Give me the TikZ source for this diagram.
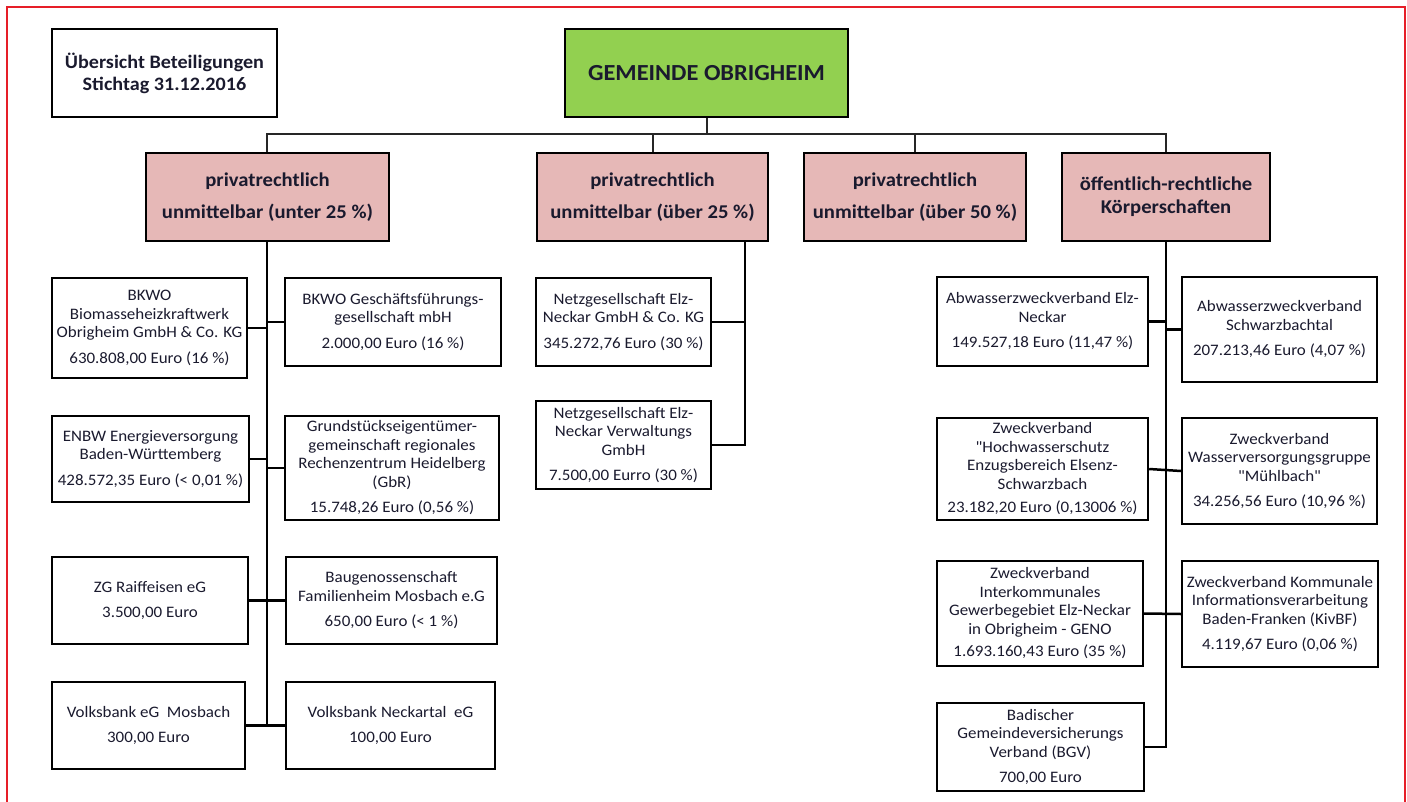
\documentclass[tikz,border=0pt]{standalone}
\usepackage{fontspec}
\setmainfont{Carlito}[FakeStretch=1.06,Ligatures=TeXOff]
\definecolor{txt}{RGB}{26,26,46}
\definecolor{gruen}{RGB}{146,208,80}
\definecolor{rosa}{RGB}{230,184,183}
\definecolor{rahmen}{RGB}{230,30,40}
\begin{document}
\begin{tikzpicture}[x=1pt,y=-1pt,
  box/.style={draw=black,line width=2.4pt,rectangle,align=center,inner sep=1pt,
    text=txt,font=\fontsize{16}{18.5}\selectfont},
  headbox/.style={box,fill=rosa,font=\bfseries\fontsize{19.5}{20}\selectfont},
  conn/.style={draw=black,line width=2.5pt},
  busline/.style={draw=black!85,line width=2pt}]
\useasboundingbox (0,0) rectangle (1407,802);
\draw[rahmen,line width=2pt] (7,802) -- (7,7) -- (1405,7) -- (1405,802);

\node[box,minimum width=225pt,minimum height=88pt,font=\bfseries\fontsize{19}{22}\selectfont] (titel) at (164.5,73) {Übersicht Beteiligungen\\Stichtag 31.12.2016};
\node[box,fill=gruen,minimum width=283pt,minimum height=88pt,font=\bfseries\fontsize{23}{24}\selectfont] (gem) at (706.5,73) {GEMEINDE OBRIGHEIM};

\node[headbox,minimum width=243pt,minimum height=88pt] (cat1) at (267.5,197) {privatrechtlich\\[12pt]unmittelbar (unter 25 \%)};
\node[headbox,minimum width=231pt,minimum height=88pt] (cat2) at (652.5,197) {privatrechtlich\\[12pt]unmittelbar (über 25 \%)};
\node[headbox,minimum width=222pt,minimum height=88pt] (cat3) at (915,197) {privatrechtlich\\[12pt]unmittelbar (über 50 \%)};
\node[headbox,minimum width=208pt,minimum height=88pt,font=\bfseries\fontsize{19.5}{23}\selectfont] (cat4) at (1166,197) {öffentlich-rechtliche\\Körperschaften};

% left column
\node[box,minimum width=195pt,minimum height=100pt] (bkwo) at (149.5,328) {BKWO\\Biomasseheizkraftwerk\\Obrigheim GmbH \& Co. KG\\[7pt]630.808,00 Euro (16 \%)};
\node[box,minimum width=216pt,minimum height=88pt] (bkwogf) at (393,322) {BKWO Geschäftsführungs-\\gesellschaft mbH\\[7pt]2.000,00 Euro (16 \%)};
\node[box,minimum width=197pt,minimum height=86pt] (enbw) at (150.5,459) {ENBW Energieversorgung\\Baden-Württemberg\\[7pt]428.572,35 Euro (< 0,01 \%)};
\node[box,minimum width=214pt,minimum height=104pt] (grund) at (392,468) {Grundstückseigentümer-\\gemeinschaft regionales\\Rechenzentrum Heidelberg\\(GbR)\\[7pt]15.748,26 Euro (0,56 \%)};
\node[box,minimum width=196pt,minimum height=87pt] (zg) at (150,600.5) {ZG Raiffeisen eG\\[7pt]3.500,00 Euro};
\node[box,minimum width=211pt,minimum height=87pt] (baug) at (391.5,600.5) {Baugenossenschaft\\Familienheim Mosbach e.G\\[7pt]650,00 Euro (< 1 \%)};
\node[box,minimum width=193pt,minimum height=87pt] (vbm) at (148.5,725.5) {Volksbank eG\ \ Mosbach\\[7pt]300,00 Euro};
\node[box,minimum width=209pt,minimum height=87pt] (vbn) at (390.5,725.5) {Volksbank Neckartal\ \ eG\\[7pt]100,00 Euro};

% middle column
\node[box,minimum width=175pt,minimum height=88pt] (netz1) at (623.5,322) {Netzgesellschaft Elz-\\Neckar GmbH \& Co. KG\\[7pt]345.272,76 Euro (30 \%)};
\node[box,minimum width=175pt,minimum height=88pt] (netz2) at (623.5,445) {Netzgesellschaft Elz-\\Neckar Verwaltungs\\GmbH\\[7pt]7.500,00 Eurro (30 \%)};

% right column
\node[box,minimum width=211pt,minimum height=89pt] (abw1) at (1042.5,321.5) {Abwasserzweckverband Elz-\\Neckar\\[7pt]149.527,18 Euro (11,47 \%)};
\node[box,minimum width=195pt,minimum height=105pt] (abw2) at (1279.5,329.5) {Abwasserzweckverband\\Schwarzbachtal\\[7pt]207.213,46 Euro (4,07 \%)};
\node[box,minimum width=211pt,minimum height=102pt] (hoch) at (1042.5,469) {Zweckverband\\"Hochwasserschutz\\Enzugsbereich Elsenz-\\Schwarzbach\\[5pt]23.182,20 Euro (0,13006 \%)};
\node[box,minimum width=195pt,minimum height=106pt] (wass) at (1279.5,471) {Zweckverband\\Wasserversorgungsgruppe\\"Mühlbach"\\[7pt]34.256,56 Euro (10,96 \%)};
\node[box,minimum width=206pt,minimum height=105pt] (inter) at (1040,613.5) {Zweckverband\\Interkommunales\\Gewerbegebiet Elz-Neckar\\in Obrigheim - GENO\\[4pt]1.693.160,43 Euro (35 \%)};
\node[box,minimum width=196pt,minimum height=106pt] (kiv) at (1280,614) {Zweckverband Kommunale\\Informationsverarbeitung\\Baden-Franken (KivBF)\\[7pt]4.119,67 Euro (0,06 \%)};
\node[box,minimum width=207pt,minimum height=88pt] (bgv) at (1040.5,747) {Badischer\\Gemeindeversicherungs\\Verband (BGV)\\[7pt]700,00 Euro};

% top connectors
\coordinate (busL) at (267,134);
\coordinate (busR) at (1166,134);
\draw[busline] (cat1.north -| busL) -- (busL) -- (busR) -- (cat4.north);
\draw[busline] (gem.south -| 707,0) -- (707,134);
\draw[busline] (cat2.north) -- (cat2.north |- busL);
\draw[busline] (cat3.north) -- (cat3.north |- busL);

% left spine
\coordinate (sp1) at (267,241);
\draw[conn] (sp1) -- (sp1 |- vbm.east);
\draw[conn] (bkwo.east) -- (sp1 |- bkwo.east);
\draw[conn] (bkwogf.west) -- (sp1 |- bkwogf.west);
\draw[conn] (enbw.east) -- (sp1 |- enbw.east);
\draw[conn] (grund.west) -- (sp1 |- grund.west);
\draw[conn] (zg.east) -- (baug.west);
\draw[conn] (vbm.east) -- (vbn.west);

% middle spine
\coordinate (sp2) at (745,241);
\draw[conn] (sp2) |- (netz2.east);
\draw[conn] (netz1.east) -- (sp2 |- netz1.east);

% right spine
\draw[conn] (cat4.south) |- (bgv.east);
\draw[conn] (abw1.east) -- (cat4.south |- abw1.east);
\draw[conn] (abw2.west) -- (cat4.south |- abw2.west);
\draw[conn] (hoch.east) -- (wass.west);
\draw[conn] (inter.east) -- (kiv.west);
\end{tikzpicture}
\end{document}
